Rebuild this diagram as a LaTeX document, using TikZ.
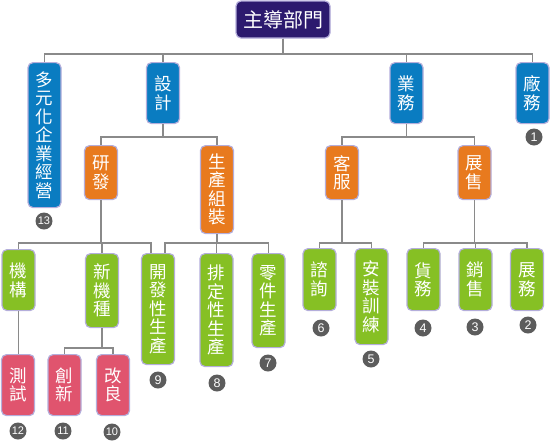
\documentclass[tikz,border=0pt]{standalone}
\usepackage{fontspec}
\newfontfamily\cjk{Noto Sans CJK TC}
\setmainfont{Liberation Sans}
\usetikzlibrary{positioning}
\definecolor{rootpurple}{RGB}{44, 26, 110}
\definecolor{deptblue}{RGB}{10, 124, 193}
\definecolor{secorange}{RGB}{232, 122, 30}
\definecolor{unitgreen}{RGB}{134, 192, 36}
\definecolor{taskpink}{RGB}{224, 84, 110}
\definecolor{edgelav}{RGB}{180, 174, 219}
\definecolor{linkgray}{RGB}{138, 138, 138}
\definecolor{badgegray}{RGB}{92, 92, 92}

\begin{document}
\begin{tikzpicture}[x=1pt, y=-1pt,
  orgbox/.style={draw=edgelav, line width=1.2pt, rounded corners=5pt, text=white,
    align=center, anchor=north, minimum width=33pt, inner sep=2pt,
    font=\cjk\fontsize{17.5}{18.5}\selectfont},
  lvone/.style={orgbox, fill=deptblue},
  lvtwo/.style={orgbox, fill=secorange},
  lvthree/.style={orgbox, fill=unitgreen},
  lvfour/.style={orgbox, fill=taskpink},
  badge/.style={circle, fill=badgegray, text=white, inner sep=0pt, minimum size=17pt,
    font=\fontsize{12.5}{12.5}\selectfont},
  link/.style={draw=linkgray, line width=1.6pt}
]
  \useasboundingbox (0,0) rectangle (550,440);

  % top
  \node[orgbox, fill=rootpurple, anchor=center, minimum width=94pt, minimum height=37pt,
    font=\cjk\fontsize{20}{22}\selectfont] (root) at (283,19.5) {主導部門};

  % departments
  \node[lvone, minimum height=145pt] (duoyuan) at (44.5,62) {多\\元\\化\\企\\業\\經\\營};
  \node[lvone, minimum height=61pt] (sheji) at (163,62) {設\\計};
  \node[lvone, minimum height=61pt] (yewu) at (406.5,62) {業\\務};
  \node[lvone, minimum height=61pt] (changwu) at (532.5,62) {廠\\務};

  % sections
  \node[lvtwo, minimum height=54pt] (yanfa) at (101,145) {研\\發};
  \node[lvtwo, minimum height=88pt] (shengchan) at (217,145) {生\\產\\組\\裝};
  \node[lvtwo, minimum height=54pt] (kefu) at (342,145) {客\\服};
  \node[lvtwo, minimum height=54pt] (zhanshou) at (474.5,145) {展\\售};

  % units
  \node[lvthree, minimum height=61pt] (jigou) at (18.5,249) {機\\構};
  \node[lvthree, minimum height=74pt] (xinjizhong) at (102,253) {新\\機\\種};
  \node[lvthree, minimum height=111pt] (kaifa) at (158,253) {開\\發\\性\\生\\產};
  \node[lvthree, minimum height=113pt] (paiding) at (216.5,253) {排\\定\\性\\生\\產};
  \node[lvthree, minimum height=94pt] (lingjian) at (268.5,253) {零\\件\\生\\產};
  \node[lvthree, minimum height=62pt] (zixun) at (319.5,248) {諮\\詢};
  \node[lvthree, minimum height=96pt] (anzhuang) at (371.5,248) {安\\裝\\訓\\練};
  \node[lvthree, minimum height=62pt] (huowu) at (423.5,248) {貨\\務};
  \node[lvthree, minimum height=62pt] (xiaoshou) at (475.5,248) {銷\\售};
  \node[lvthree, minimum height=62pt] (zhanwu) at (527,248) {展\\務};

  % tasks
  \node[lvfour, minimum height=61pt] (ceshi) at (18,354) {測\\試};
  \node[lvfour, minimum height=61pt] (chuangxin) at (64.5,354) {創\\新};
  \node[lvfour, minimum height=61pt] (gailiang) at (113,354) {改\\良};

  % numbers
  \node[badge] (b1) at (534,137) {1};
  \node[badge] (b2) at (528,325) {2};
  \node[badge] (b3) at (475,327) {3};
  \node[badge] (b4) at (423,328) {4};
  \node[badge] (b5) at (371,359) {5};
  \node[badge] (b6) at (321,328) {6};
  \node[badge] (b7) at (268,363) {7};
  \node[badge] (b8) at (217,383) {8};
  \node[badge] (b9) at (158,380) {9};
  \node[badge, font=\fontsize{11}{11}\selectfont] (b10) at (112,432) {10};
  \node[badge, font=\fontsize{11}{11}\selectfont] (b11) at (63,431) {11};
  \node[badge, font=\fontsize{11}{11}\selectfont] (b12) at (18,431) {12};
  \node[badge, font=\fontsize{11}{11}\selectfont] (b13) at (44,221) {13};

  % connectors
  \foreach \c in {duoyuan, sheji, yewu, changwu}
    \draw[link] (root.south) -- (root.south |- 0,54) -| (\c.north);
  \foreach \c in {yanfa, shengchan}
    \draw[link] (sheji.south) -- (sheji.south |- 0,137) -| (\c.north);
  \foreach \c in {kefu, zhanshou}
    \draw[link] (yewu.south) -- (yewu.south |- 0,137) -| (\c.north);
  \foreach \c in {jigou, xinjizhong}
    \draw[link] (yanfa.south) -- (yanfa.south |- 0,243) -| (\c.north);
  \draw[link] (yanfa.south) -- (yanfa.south |- 0,243) -| ([xshift=-7pt]kaifa.north);
  \draw[link] (shengchan.south) -- (shengchan.south |- 0,243) -| ([xshift=7pt]kaifa.north);
  \foreach \c in {paiding, lingjian}
    \draw[link] (shengchan.south) -- (shengchan.south |- 0,243) -| (\c.north);
  \foreach \c in {zixun, anzhuang}
    \draw[link] (kefu.south) -- (kefu.south |- 0,243) -| (\c.north);
  \foreach \c in {huowu, xiaoshou, zhanwu}
    \draw[link] (zhanshou.south) -- (zhanshou.south |- 0,243) -| (\c.north);
  \draw[link] (jigou.south) -- (jigou.south |- ceshi.north);
  \foreach \c in {chuangxin, gailiang}
    \draw[link] (xinjizhong.south) -- (xinjizhong.south |- 0,348) -| (\c.north);
\end{tikzpicture}
\end{document}
